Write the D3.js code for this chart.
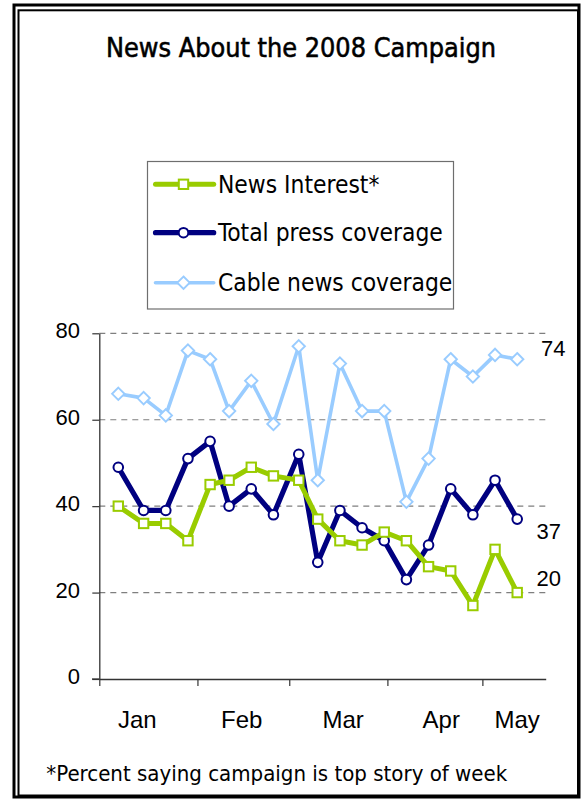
<!DOCTYPE html>
<html>
<head>
<meta charset="utf-8">
<script src="https://cdn.jsdelivr.net/npm/d3@7"></script>
<style>
  html, body { margin: 0; padding: 0; background: #fff; }
  svg { display: block; }
</style>
</head>
<body>
<svg id="chart" width="581" height="801"></svg>
<script>
// Weekly points (date of each week)
const weekDates = ["2008-01-07", "2008-01-15", "2008-01-22", "2008-01-29", "2008-02-05", "2008-02-11",
    "2008-02-18", "2008-02-25", "2008-03-04", "2008-03-10", "2008-03-17", "2008-03-24", "2008-03-31",
    "2008-04-07", "2008-04-14", "2008-04-21", "2008-04-28", "2008-05-05", "2008-05-12"];

const newsInterest = [40, 36, 36, 32, 45, 46, 49, 47, 46, 37, 32, 31, 34, 32, 26, 25, 17, 30, 20];
const totalPress = [49, 39, 39, 51, 55, 40, 44, 38, 52, 27, 39, 35, 32, 23, 31, 44, 38, 46, 37];
const cableNews = [66, 65, 61, 76, 74, 62, 69, 59, 77, 46, 73, 62, 62, 41, 51, 74, 70, 75, 74];

const yTicks = [0, 20, 40, 60, 80];
const monthLabels = ["Jan", "Feb", "Mar", "Apr", "May"];
const monthLabelDates = ["2008-01-13", "2008-02-15", "2008-03-18", "2008-04-18", "2008-05-12"];

const parseDate = d3.timeParse("%Y-%m-%d");

const svg = d3.select("#chart");

const ARIAL = "'Liberation Sans', Arial, sans-serif";
const TAHOMA = "'DejaVu Sans Condensed', 'DejaVu Sans', sans-serif";

// series config, drawing order: cable first, green on top
const series = [
    { name: "Cable news coverage", values: cableNews, color: "#99ccff", width: 3.6, marker: "diamond", labelDx: 541, labelDy: -3 },
    { name: "Total press coverage", values: totalPress, color: "#000080", width: 5.2, marker: "circle", labelDx: 536.5, labelDy: 20 },
    { name: "News Interest*", values: newsInterest, color: "#99cc00", width: 5, marker: "square", labelDx: 536.5, labelDy: -7 }
];

// scales
const xScale = d3.scaleTime()
    .domain([new Date(2008, 0, 1), new Date(2008, 4, 21)])
    .range([99.3, 545.7]);
const yScale = d3.scaleLinear().domain([0, 80]).range([679, 333.3]);

// frame (double border)
svg.append("rect").attr("x", 14).attr("y", 5).attr("width", 565).attr("height", 792)
    .attr("fill", "none").attr("stroke", "#000").attr("stroke-width", 3);
svg.append("rect").attr("x", 18.5).attr("y", 10.3).attr("width", 559.5).attr("height", 785.2)
    .attr("fill", "none").attr("stroke", "#000").attr("stroke-width", 2);

// fit helper: scales font size so the text gets the wanted width
const fitWidth = (sel, target) => {
    let size = parseFloat(sel.attr("font-size"));
    for (let i = 0; i < 3; i++) {
        const w = sel.node().getComputedTextLength();
        size = size * target / w;
        sel.attr("font-size", size);
    }
    return size;
};

// title
const title = svg.append("text")
    .attr("x", 301).attr("y", 56.7)
    .attr("text-anchor", "middle")
    .attr("font-family", TAHOMA).attr("font-size", 22)
    .attr("fill", "#000")
    .attr("stroke", "#000").attr("stroke-width", 0.55)
    .text("News About the 2008 Campaign");
fitWidth(title, 390);

// gridlines
svg.append("g").attr("class", "grid")
    .selectAll("line")
    .data(yTicks.filter((d) => d > 0))
    .join("line")
    .attr("x1", 99.3).attr("x2", 545.7)
    .attr("y1", (d) => yScale(d)).attr("y2", (d) => yScale(d))
    .attr("stroke", "#7f7f7f").attr("stroke-width", 1.2)
    .attr("stroke-dasharray", "6,5");

// y axis
const yAxis = (g) => {
    g.attr("transform", `translate(${xScale.range()[0]},0)`)
        .call(d3.axisLeft(yScale).tickValues(yTicks).tickSize(7).tickSizeOuter(0).tickFormat(""));
    g.select(".domain").attr("stroke", "#333").attr("stroke-width", 1.3);
    g.selectAll(".tick line").attr("stroke", "#333").attr("stroke-width", 1.2);
};
svg.append("g").attr("class", "y-axis").call(yAxis);

svg.append("g").attr("class", "y-labels")
    .selectAll("text")
    .data(yTicks)
    .join("text")
    .attr("x", 80).attr("y", (d) => yScale(d) + 5)
    .attr("text-anchor", "end")
    .attr("font-family", ARIAL).attr("font-size", 22)
    .attr("fill", "#000")
    .text((d) => d);

// x axis (month ticks only, labels placed separately)
const xAxis = (g) => {
    g.attr("transform", `translate(0,${yScale(0)})`)
        .call(d3.axisBottom(xScale).ticks(d3.timeMonth.every(1)).tickSize(7).tickSizeOuter(0).tickFormat(""));
    g.select(".domain").attr("stroke", "#333").attr("stroke-width", 1.3);
    g.selectAll(".tick line").attr("stroke", "#333").attr("stroke-width", 1.2);
};
svg.append("g").attr("class", "x-axis").call(xAxis);
// axis line reaches past the y axis to the left like the original
svg.append("line").attr("x1", 92).attr("x2", 99.3).attr("y1", yScale(0)).attr("y2", yScale(0))
    .attr("stroke", "#333").attr("stroke-width", 1.3);

svg.append("g").attr("class", "x-labels")
    .selectAll("text")
    .data(monthLabels)
    .join("text")
    .attr("x", (d, i) => xScale(parseDate(monthLabelDates[i])))
    .attr("y", 727.7)
    .attr("text-anchor", "middle")
    .attr("font-family", ARIAL).attr("font-size", 24)
    .attr("fill", "#000")
    .text((d) => d);

// markers
const drawMarker = (g, type, color) => {
    if (type === "square") {
        g.append("rect").attr("x", -4.7).attr("y", -4.7).attr("width", 9.4).attr("height", 9.4)
            .attr("fill", "#fff").attr("stroke", color).attr("stroke-width", 2);
    } else if (type === "circle") {
        g.append("circle").attr("r", 4.8)
            .attr("fill", "#fff").attr("stroke", color).attr("stroke-width", 2);
    } else {
        g.append("path").attr("d", "M0,-6.2L6.2,0L0,6.2L-6.2,0Z")
            .attr("fill", "#fff").attr("stroke", color).attr("stroke-width", 1.9);
    }
};

const line = d3.line()
    .x((d) => xScale(d[0]))
    .y((d) => yScale(d[1]));

series.forEach((s) => {
    const pts = s.values.map((v, i) => [parseDate(weekDates[i]), v]);
    const g = svg.append("g").attr("class", "series");
    g.append("path")
        .datum(pts)
        .attr("d", line)
        .attr("fill", "none")
        .attr("stroke", s.color)
        .attr("stroke-width", s.width)
        .attr("stroke-linejoin", "round");
    g.selectAll("g.pt")
        .data(pts)
        .join("g")
        .attr("class", "pt")
        .attr("transform", (d) => `translate(${xScale(d[0])},${yScale(d[1])})`)
        .each(function () {
            drawMarker(d3.select(this), s.marker, s.color);
        });

    // last value label
    const last = s.values[s.values.length - 1];
    svg.append("text")
        .attr("x", s.labelDx)
        .attr("y", yScale(last) + s.labelDy)
        .attr("font-family", ARIAL).attr("font-size", 22)
        .attr("fill", "#000")
        .text(last);
});

// legend
const legendRows = [series[2], series[1], series[0]];
const legendWidths = [161.8, 228.5, 230];
const legend = svg.append("g").attr("class", "legend");
legend.append("rect").attr("x", 147.5).attr("y", 161.5).attr("width", 306).attr("height", 147.5)
    .attr("fill", "#fff").attr("stroke", "#6e6e6e").attr("stroke-width", 1.2);

const rowY = [184.3, 232.7, 282.7];
const sizes = [];
legendRows.forEach((s, i) => {
    const row = legend.append("g").attr("transform", `translate(0,${rowY[i]})`);
    row.append("line").attr("x1", 155.5).attr("x2", 213.7).attr("y1", 0).attr("y2", 0)
        .attr("stroke", s.color).attr("stroke-width", s.width).attr("stroke-linecap", "round");
    const m = row.append("g").attr("transform", "translate(183.5,0)");
    drawMarker(m, s.marker, s.color);
    const t = row.append("text")
        .attr("x", 218).attr("y", 8.5)
        .attr("font-family", TAHOMA).attr("font-size", 21)
        .attr("fill", "#000")
        .text(s.name);
    sizes.push(fitWidth(t, legendWidths[i]));
});
legend.selectAll("text").attr("font-size", d3.mean(sizes));

// footnote
const foot = svg.append("text")
    .attr("x", 46.3).attr("y", 781)
    .attr("font-family", TAHOMA).attr("font-size", 19)
    .attr("fill", "#000")
    .text("*Percent saying campaign is top story of week");
fitWidth(foot, 461);
</script>
</body>
</html>
